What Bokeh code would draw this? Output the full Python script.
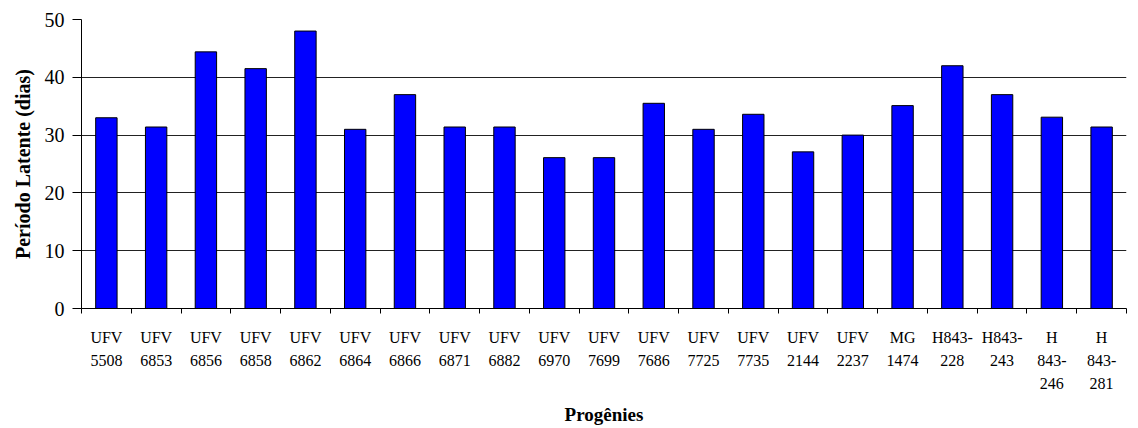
from bokeh.plotting import figure
from bokeh.models import Range1d, FixedTicker
from bokeh.embed import file_html
from bokeh.resources import INLINE

# ---- data ----
progenies = [
    "UFV\n5508", "UFV\n6853", "UFV\n6856", "UFV\n6858", "UFV\n6862",
    "UFV\n6864", "UFV\n6866", "UFV\n6871", "UFV\n6882", "UFV\n6970",
    "UFV\n7699", "UFV\n7686", "UFV\n7725", "UFV\n7735", "UFV\n2144",
    "UFV\n2237", "MG\n1474", "H843-\n228", "H843-\n243", "H\n843-\n246",
    "H\n843-\n281",
]
periodo_latente = [
    33.0, 31.4, 44.4, 41.5, 48.0,
    31.0, 37.0, 31.4, 31.4, 26.1,
    26.1, 35.5, 31.0, 33.6, 27.1,
    30.0, 35.1, 42.0, 37.0, 33.1,
    31.4,
]
y_ticks = [0, 10, 20, 30, 40, 50]

FONT = "Liberation Serif"
n = len(progenies)
xpos = list(range(1, n + 1))

p = figure(
    width=1138, height=428,
    x_range=Range1d(0.5, n + 0.5), y_range=Range1d(0, 50),
    output_backend="svg", toolbar_location=None,
    min_border_left=81, min_border_right=12, min_border_top=19, min_border_bottom=119,
)
p.outline_line_color = None
p.background_fill_color = "white"
p.border_fill_color = "white"

p.vbar(x=xpos, top=periodo_latente, width=0.43,
       fill_color="#0000FF", line_color="black", line_width=1)

# x axis
xa = p.xaxis[0]
xa.ticker = FixedTicker(ticks=xpos, minor_ticks=[i + 0.5 for i in range(0, n + 1)])
xa.major_label_overrides = {i: lab for i, lab in zip(xpos, progenies)}
xa.major_tick_out = 0
xa.major_tick_in = 0
xa.minor_tick_out = 5
xa.minor_tick_in = 0
xa.minor_tick_line_color = "black"
xa.axis_line_color = "black"
xa.major_label_text_font = FONT
xa.major_label_text_font_size = "16px"
xa.major_label_text_color = "black"
xa.major_label_text_line_height = 1.375
xa.major_label_standoff = 15
xa.axis_label = "Progênies"
xa.axis_label_text_font = FONT
xa.axis_label_text_font_size = "19px"
xa.axis_label_text_font_style = "bold"
xa.axis_label_text_color = "black"
xa.axis_label_text_line_height = 0.9
xa.axis_label_standoff = 9

# y axis
ya = p.yaxis[0]
ya.ticker = FixedTicker(ticks=y_ticks)
ya.major_tick_out = 9
ya.major_tick_in = 0
ya.minor_tick_out = 0
ya.minor_tick_in = 0
ya.axis_line_color = "black"
ya.major_tick_line_color = "black"
ya.major_label_text_font = FONT
ya.major_label_text_font_size = "20px"
ya.major_label_text_color = "black"
ya.major_label_standoff = 8
ya.axis_label = "Período Latente (dias)"
ya.axis_label_text_font = FONT
ya.axis_label_text_font_size = "20px"
ya.axis_label_text_font_style = "bold"
ya.axis_label_text_color = "black"
ya.axis_label_standoff = 8

p.xgrid.grid_line_color = None
p.ygrid.ticker = FixedTicker(ticks=[10, 20, 30, 40, 50])
p.ygrid.grid_line_color = "#222222"
p.ygrid.grid_line_width = 1

open("out.html", "w").write(file_html(p, INLINE))
